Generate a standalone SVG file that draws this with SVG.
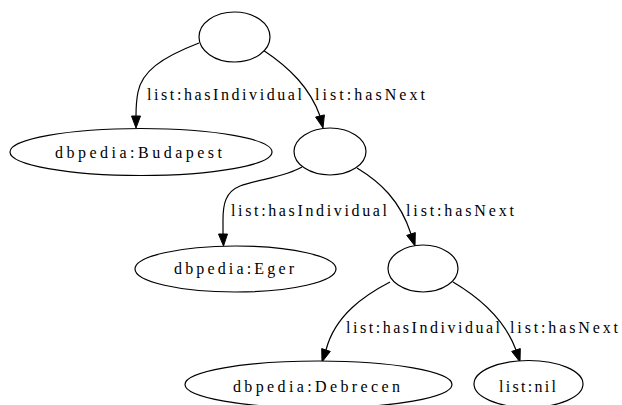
<svg xmlns="http://www.w3.org/2000/svg" width="622" height="405" viewBox="0 0 622 405">
  <style>
    .node ellipse { fill: #ffffff; stroke: #000000; stroke-width: 1.2; }
    .edge path { fill: none; stroke: #000000; stroke-width: 1.2; }
    .edge polygon { fill: #000000; stroke: #000000; stroke-width: 1; }
    text { font-family: "Liberation Serif", "Times New Roman", serif; font-size: 16px; fill: #000000; }
  </style>
  <rect width="622" height="405" fill="#ffffff"/>

  <!-- connectors -->
  <g id="edges">
    <g class="edge" id="e-root-budapest">
      <path d="M199,43 C160,58 142,72 138,92 C136,102 136,110 136,116"/>
      <polygon points="131.5,116 140.5,116 136,128"/>
      <text x="147" y="100" textLength="155" lengthAdjust="spacing">list:hasIndividual</text>
    </g>
    <g class="edge" id="e-root-n2">
      <path d="M263,50 C290,68 310,88 320,116"/>
      <polygon points="315.6,117.1 324.4,114.9 323,128"/>
      <text x="315" y="100" textLength="110" lengthAdjust="spacing">list:hasNext</text>
    </g>
    <g class="edge" id="e-n2-eger">
      <path d="M302,167 C285,177 260,179 240,186 C225,192 223,205 223,220 L223,234"/>
      <polygon points="218.5,234 227.5,234 223.5,246"/>
      <text x="231" y="216" textLength="156" lengthAdjust="spacing">list:hasIndividual</text>
    </g>
    <g class="edge" id="e-n2-n3">
      <path d="M357,168 C380,182 400,200 411,234"/>
      <polygon points="406.7,235.4 415.3,232.6 415,246"/>
      <text x="406" y="216" textLength="108" lengthAdjust="spacing">list:hasNext</text>
    </g>
    <g class="edge" id="e-n3-debrecen">
      <path d="M390,282 C365,295 335,315 326,350"/>
      <polygon points="321.7,348.6 330.3,351.4 322,362"/>
      <text x="346" y="333" textLength="154" lengthAdjust="spacing">list:hasIndividual</text>
    </g>
    <g class="edge" id="e-n3-nil">
      <path d="M453,282 C480,298 505,320 516,350"/>
      <polygon points="511.7,351.4 520.3,348.6 520,362"/>
      <text x="510" y="333" textLength="108" lengthAdjust="spacing">list:hasNext</text>
    </g>
  </g>

  <!-- nodes -->
  <g class="node" id="n-root">
    <ellipse cx="234.5" cy="37" rx="35.5" ry="25"/>
  </g>
  <g class="node" id="n-budapest">
    <ellipse cx="141" cy="152" rx="131" ry="23.5"/>
    <text x="55" y="158" textLength="167" lengthAdjust="spacing">dbpedia:Budapest</text>
  </g>
  <g class="node" id="n-2">
    <ellipse cx="330" cy="151.5" rx="36" ry="23.5"/>
  </g>
  <g class="node" id="n-eger">
    <ellipse cx="235.5" cy="269" rx="100.5" ry="23"/>
    <text x="174" y="274" textLength="120" lengthAdjust="spacing">dbpedia:Eger</text>
  </g>
  <g class="node" id="n-3">
    <ellipse cx="423" cy="268.5" rx="35" ry="23.5"/>
  </g>
  <g class="node" id="n-debrecen">
    <ellipse cx="318.5" cy="384.5" rx="133.5" ry="23.5"/>
    <text x="233" y="392" textLength="167" lengthAdjust="spacing">dbpedia:Debrecen</text>
  </g>
  <g class="node" id="n-nil">
    <ellipse cx="528.5" cy="384" rx="54.5" ry="23.5"/>
    <text x="499" y="392" textLength="57" lengthAdjust="spacing">list:nil</text>
  </g>
</svg>
